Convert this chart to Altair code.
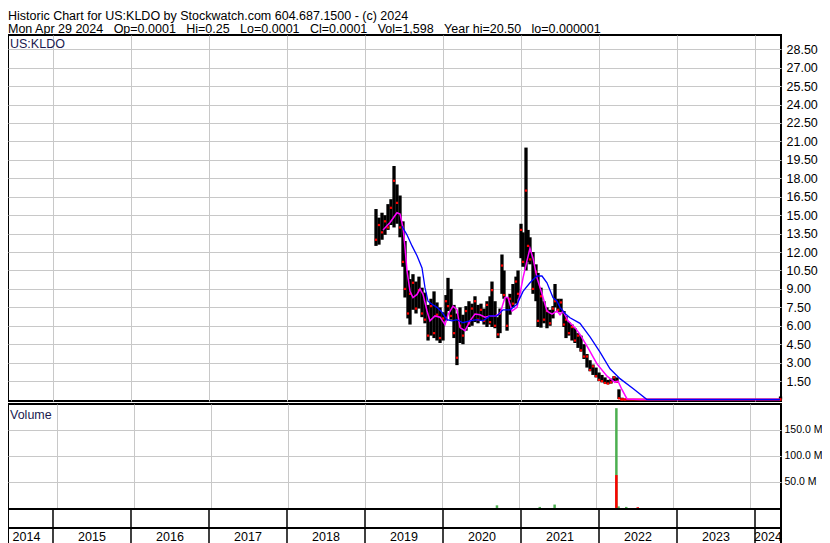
import altair as alt
import pandas as pd

FONT = "Liberation Sans"

# ---------------- text ----------------
header_line1 = "Historic Chart for US:KLDO by Stockwatch.com 604.687.1500 - (c) 2024"
header_fields = ["Mon Apr 29 2024", "Op=0.0001", "Hi=0.25", "Lo=0.0001", "Cl=0.0001",
                 "Vol=1,598", "Year hi=20.50", "lo=0.000001"]
symbol_label = "US:KLDO"
volume_label = "Volume"

# ---------------- axes ----------------
x_domain = [2014.4231, 2024.3333]
year_bounds = [2015, 2016, 2017, 2018, 2019, 2020, 2021, 2022, 2023, 2024]
year_labels = ["2014", "2015", "2016", "2017", "2018", "2019", "2020", "2021", "2022", "2023", "2024"]
year_label_pos = [2014.66, 2015.5, 2016.5, 2017.5, 2018.5, 2019.5, 2020.5, 2021.5, 2022.5, 2023.5, 2024.167]
price_ticks = [1.5, 3.0, 4.5, 6.0, 7.5, 9.0, 10.5, 12.0, 13.5, 15.0, 16.5, 18.0, 19.5,
               21.0, 22.5, 24.0, 25.5, 27.0, 28.5]
price_domain = [-0.12, 29.66]
volume_ticks = [50e6, 100e6, 150e6]
volume_domain = [-2e6, 199e6]

# ---------------- price bars (decimal year, high, low, close) ----------------
bar_date = [2019.141, 2019.179, 2019.218, 2019.256, 2019.295, 2019.333, 2019.372, 2019.410,
            2019.449, 2019.487, 2019.513, 2019.551, 2019.577, 2019.615, 2019.654, 2019.692,
            2019.731, 2019.769, 2019.808, 2019.846, 2019.885, 2019.923, 2019.962, 2020.000,
            2020.038, 2020.064, 2020.103, 2020.141, 2020.179, 2020.218, 2020.256, 2020.295,
            2020.333, 2020.372, 2020.410, 2020.449, 2020.487, 2020.526, 2020.564, 2020.603,
            2020.628, 2020.667, 2020.705, 2020.731, 2020.756, 2020.782, 2020.821, 2020.859,
            2020.897, 2020.936, 2020.962, 2021.000, 2021.026, 2021.064, 2021.090, 2021.115,
            2021.154, 2021.192, 2021.218, 2021.256, 2021.295, 2021.333, 2021.372, 2021.410,
            2021.436, 2021.474, 2021.513, 2021.551, 2021.577, 2021.615, 2021.654, 2021.692,
            2021.731, 2021.769, 2021.808, 2021.846, 2021.885, 2021.923, 2021.962, 2022.000,
            2022.038, 2022.077, 2022.115, 2022.154, 2022.192, 2022.231, 2022.256, 2022.295,
            2022.333, 2024.327]
bar_high = [15.5, 14.8, 15.2, 15.0, 15.9, 16.3, 19.0, 17.5,
            16.6, 14.5, 12.9, 10.5, 9.8, 10.2, 9.6, 10.0,
            9.1, 8.7, 7.7, 8.2, 8.8, 7.9, 7.5, 7.1,
            8.5, 9.9, 9.0, 7.7, 7.0, 7.5, 6.9, 7.6,
            8.0, 7.8, 8.4, 7.7, 7.8, 7.4, 8.0, 8.4,
            9.6, 8.0, 6.7, 7.4, 11.8, 10.5, 8.3, 8.6,
            9.4, 10.0, 10.5, 14.3, 13.6, 20.5, 13.8, 13.2,
            12.0, 11.0, 10.3, 9.1, 8.0, 7.5, 7.3, 7.6,
            9.4, 8.2, 8.2, 7.2, 6.8, 6.3, 6.1, 5.8,
            5.4, 5.2, 4.5, 3.7, 3.2, 2.85, 2.6, 2.2,
            2.0, 1.8, 1.6, 1.7, 1.9, 1.8, 0.83, 0.15,
            0.05, 0.25]
bar_low = [12.5, 12.6, 13.0, 13.4, 13.8, 14.2, 14.0, 14.3,
           13.2, 10.8, 8.3, 6.6, 6.1, 7.3, 7.0, 7.4,
           6.7, 6.2, 4.8, 5.2, 5.0, 4.8, 4.6, 4.8,
           6.4, 7.2, 6.5, 5.0, 2.8, 4.6, 4.5, 5.6,
           5.9, 6.0, 6.3, 6.2, 6.4, 6.1, 5.9, 6.1,
           5.9, 5.8, 5.0, 5.4, 8.6, 8.2, 5.6, 6.9,
           7.5, 7.8, 8.2, 11.5, 10.8, 10.5, 11.2, 11.0,
           8.6, 8.0, 5.9, 5.85, 6.2, 5.8, 6.0, 6.6,
           7.5, 7.1, 7.1, 5.9, 5.0, 5.2, 4.8, 4.6,
           4.2, 3.9, 3.3, 2.6, 2.3, 2.0, 1.8, 1.5,
           1.4, 1.3, 1.24, 1.3, 1.5, 1.4, 0.05, 0.0,
           0.0, 0.0001]
bar_close = [13.0, 14.2, 13.6, 14.5, 14.0, 15.6, 17.8, 16.0,
             14.0, 11.2, 9.0, 7.0, 8.6, 9.5, 7.4, 8.9,
             7.0, 6.5, 5.2, 7.6, 5.4, 6.9, 5.0, 6.6,
             8.0, 7.6, 6.8, 5.4, 3.4, 6.0, 5.2, 7.2,
             6.2, 7.4, 8.0, 6.5, 7.3, 6.4, 7.7, 6.3,
             8.9, 6.0, 5.3, 7.0, 10.9, 8.5, 6.0, 8.2,
             7.8, 9.6, 8.6, 13.8, 11.2, 17.0, 12.5, 11.4,
             9.0, 10.4, 6.4, 8.4, 6.5, 7.2, 6.2, 7.4,
             8.0, 7.3, 7.9, 6.1, 6.5, 5.4, 5.9, 4.8,
             5.2, 4.0, 3.5, 3.5, 2.4, 2.7, 1.9, 1.6,
             1.5, 1.35, 1.3, 1.4, 1.8, 1.45, 0.1, 0.02,
             0.01, 0.0001]

# flat close line after the collapse
tail_date = [2022.27, 2022.5, 2023.0, 2023.5, 2024.0, 2024.333]
tail_close = [0.0001, 0.0001, 0.0001, 0.0001, 0.0001, 0.0001]

# short moving average (magenta)
ma_fast_date = [2019.231, 2019.321, 2019.410, 2019.449, 2019.487, 2019.513, 2019.538, 2019.577,
                2019.615, 2019.667, 2019.705, 2019.744, 2019.795, 2019.833, 2019.897, 2019.962,
                2020.026, 2020.064, 2020.128, 2020.179, 2020.218, 2020.282, 2020.346, 2020.410,
                2020.474, 2020.538, 2020.603, 2020.667, 2020.731, 2020.795, 2020.833, 2020.885,
                2020.949, 2020.987, 2021.026, 2021.077, 2021.115, 2021.154, 2021.205, 2021.269,
                2021.333, 2021.397, 2021.462, 2021.500, 2021.538, 2021.603, 2021.692, 2021.756,
                2021.859, 2021.974, 2022.103, 2022.205, 2022.244, 2022.295, 2022.359, 2022.526,
                2024.321]
ma_fast = [13.8, 14.4, 15.2, 15.1, 14.0, 12.35, 10.5, 8.8,
           8.3, 8.55, 9.0, 8.55, 7.2, 6.4, 6.8, 6.7,
           6.1, 6.9, 7.6, 7.3, 5.85, 5.6, 6.4, 6.95,
           6.9, 6.7, 6.8, 6.8, 7.0, 8.3, 8.3, 7.2,
           7.5, 8.6, 9.9, 11.3, 12.3, 11.5, 9.9, 8.6,
           7.2, 6.95, 7.2, 6.9, 7.2, 6.4, 5.85, 5.3,
           4.2, 2.9, 1.9, 1.4, 1.5, 0.8, 0.05, 0.0001,
           0.0001]

# long moving average (blue)
ma_slow_date = [2019.474, 2019.538, 2019.603, 2019.667, 2019.731, 2019.769, 2019.808, 2019.859,
                2019.923, 2019.987, 2020.051, 2020.115, 2020.179, 2020.256, 2020.346, 2020.436,
                2020.513, 2020.603, 2020.692, 2020.769, 2020.859, 2020.949, 2021.026, 2021.115,
                2021.205, 2021.269, 2021.333, 2021.410, 2021.462, 2021.500, 2021.564, 2021.628,
                2021.756, 2021.885, 2022.013, 2022.141, 2022.269, 2022.436, 2022.615, 2024.321]
ma_slow = [14.1, 13.4, 12.5, 11.7, 10.7, 9.1, 8.0, 7.75,
           7.5, 7.1, 6.5, 6.4, 6.5, 6.25, 6.4, 6.5,
           6.4, 6.8, 6.8, 7.3, 7.3, 7.75, 8.8, 9.5,
           10.05, 10.05, 9.5, 8.3, 8.0, 7.5, 7.0, 6.65,
           6.2, 5.1, 3.85, 2.5, 1.7, 0.9, 0.0001, 0.0001]

# volume (shares)
vol_up_date = [2020.709, 2021.265, 2021.458, 2022.260, 2022.288, 2022.388]
vol_up = [5e6, 2e6, 6.5e6, 191e6, 3e6, 2e6]
vol_down_date = [2022.260, 2022.538]
vol_down = [63e6, 1.5e6]

# ---------------- frames ----------------
bars_df = pd.DataFrame({"date": bar_date, "high": bar_high, "low": bar_low, "close": bar_close})
tail_df = pd.DataFrame({"date": tail_date, "price": tail_close})
fast_df = pd.DataFrame({"date": ma_fast_date, "price": ma_fast})
slow_df = pd.DataFrame({"date": ma_slow_date, "price": ma_slow})
up_df = pd.DataFrame({"date": vol_up_date, "vol": vol_up})
down_df = pd.DataFrame({"date": vol_down_date, "vol": vol_down})
bounds_df = pd.DataFrame({"date": year_bounds})
ylab_df = pd.DataFrame({"date": year_label_pos, "label": year_labels})

W = 773
GRID = "#c8c8c8"
TXT = "#1a1a50"

x_scale = alt.Scale(domain=x_domain, nice=False, zero=False)
x_axis = alt.Axis(values=year_bounds, grid=True, labels=False, ticks=False, domain=False,
                  title=None, gridColor=GRID)
X = alt.X("date:Q", scale=x_scale, axis=x_axis)

# ---------------- header ----------------
header_line2 = " \u00a0\u00a0".join(header_fields)
h1 = alt.Chart(pd.DataFrame({"t": [header_line1]})).mark_text(
    align="left", baseline="alphabetic", font=FONT, fontSize=12.5, color="black").encode(
    x=alt.value(0), y=alt.value(10.5), text="t:N")
h2 = alt.Chart(pd.DataFrame({"t": [header_line2]})).mark_text(
    align="left", baseline="alphabetic", font=FONT, fontSize=12.5, color="black").encode(
    x=alt.value(0), y=alt.value(23.5), text="t:N")
header = alt.layer(h1, h2).properties(
    width=W, height=26, view=alt.ViewBackground(stroke="transparent"))

# ---------------- price panel ----------------
p_scale = alt.Scale(domain=price_domain, nice=False, zero=False)
p_axis = alt.Axis(orient="right", values=price_ticks, format=".2f", grid=True, ticks=False,
                  domain=False, title=None, labelPadding=5, gridColor=GRID)

bars = alt.Chart(bars_df).mark_rule(color="black", strokeWidth=3.3).encode(
    x=X, y=alt.Y("high:Q", scale=p_scale, axis=p_axis), y2="low:Q")
closes = alt.Chart(bars_df).mark_square(color="red", size=5, opacity=1).encode(
    x=X, y=alt.Y("close:Q", scale=p_scale, axis=p_axis))
tail = alt.Chart(tail_df).mark_line(color="red", strokeWidth=2).encode(
    x=X, y=alt.Y("price:Q", scale=p_scale, axis=p_axis))
fast = alt.Chart(fast_df).mark_line(color="#ff00ff", strokeWidth=1.5).encode(
    x=X, y=alt.Y("price:Q", scale=p_scale, axis=p_axis))
slow = alt.Chart(slow_df).mark_line(color="#0000ff", strokeWidth=1.3).encode(
    x=X, y=alt.Y("price:Q", scale=p_scale, axis=p_axis))
sym = alt.Chart(pd.DataFrame({"t": [symbol_label]})).mark_text(
    align="left", baseline="alphabetic", font=FONT, fontSize=12.5, color=TXT).encode(
    x=alt.value(2), y=alt.value(13), text="t:N")

price = alt.layer(bars, closes, tail, fast, slow, sym).properties(width=W, height=366)

# ---------------- volume panel ----------------
v_scale = alt.Scale(domain=volume_domain, nice=False, zero=False)
v_axis = alt.Axis(orient="right", values=volume_ticks,
                  labelExpr="format(datum.value / 1000000, '.1f') + ' M'",
                  grid=True, ticks=False, domain=False, title=None, labelPadding=3,
                  labelFontSize=10.5, gridColor=GRID)
up = alt.Chart(up_df).mark_bar(color="#4caf50", size=2.5).encode(
    x=X, y=alt.Y("vol:Q", scale=v_scale, axis=v_axis))
down = alt.Chart(down_df).mark_bar(color="#ff0000", size=2.5).encode(
    x=X, y=alt.Y("vol:Q", scale=v_scale, axis=v_axis))
vlab = alt.Chart(pd.DataFrame({"t": [volume_label]})).mark_text(
    align="left", baseline="alphabetic", font=FONT, fontSize=12.5, color=TXT).encode(
    x=alt.value(2), y=alt.value(15), text="t:N")
volume = alt.layer(up, down, vlab).properties(width=W, height=105)

# ---------------- year band and labels ----------------
XB = alt.X("date:Q", scale=x_scale, axis=None)
band = alt.Chart(bounds_df).mark_rule(color="black", strokeWidth=1.5).encode(x=XB).properties(
    width=W, height=19)
lab_rules = alt.Chart(bounds_df).mark_rule(color="black", strokeWidth=1.5).encode(x=XB)
lab_text = alt.Chart(ylab_df).mark_text(font=FONT, fontSize=12.5, color="black",
                                        baseline="alphabetic").encode(
    x=XB, y=alt.value(13), text="label:N")
labels = alt.layer(lab_rules, lab_text).properties(width=W, height=16)

lower = alt.vconcat(volume, band, labels, spacing=0, bounds="flush")
middle = alt.vconcat(price, lower, spacing=3, bounds="flush")
chart = alt.vconcat(header, middle, spacing=0, bounds="flush").properties(
    padding={"left": -1, "top": 0, "right": -1, "bottom": 0},
).configure_view(stroke="black", strokeWidth=2).configure_axis(
    labelFont=FONT, labelFontSize=12.5, labelColor="black", gridWidth=1)

chart.save("out.html", embed_options={"renderer": "svg", "actions": False})
